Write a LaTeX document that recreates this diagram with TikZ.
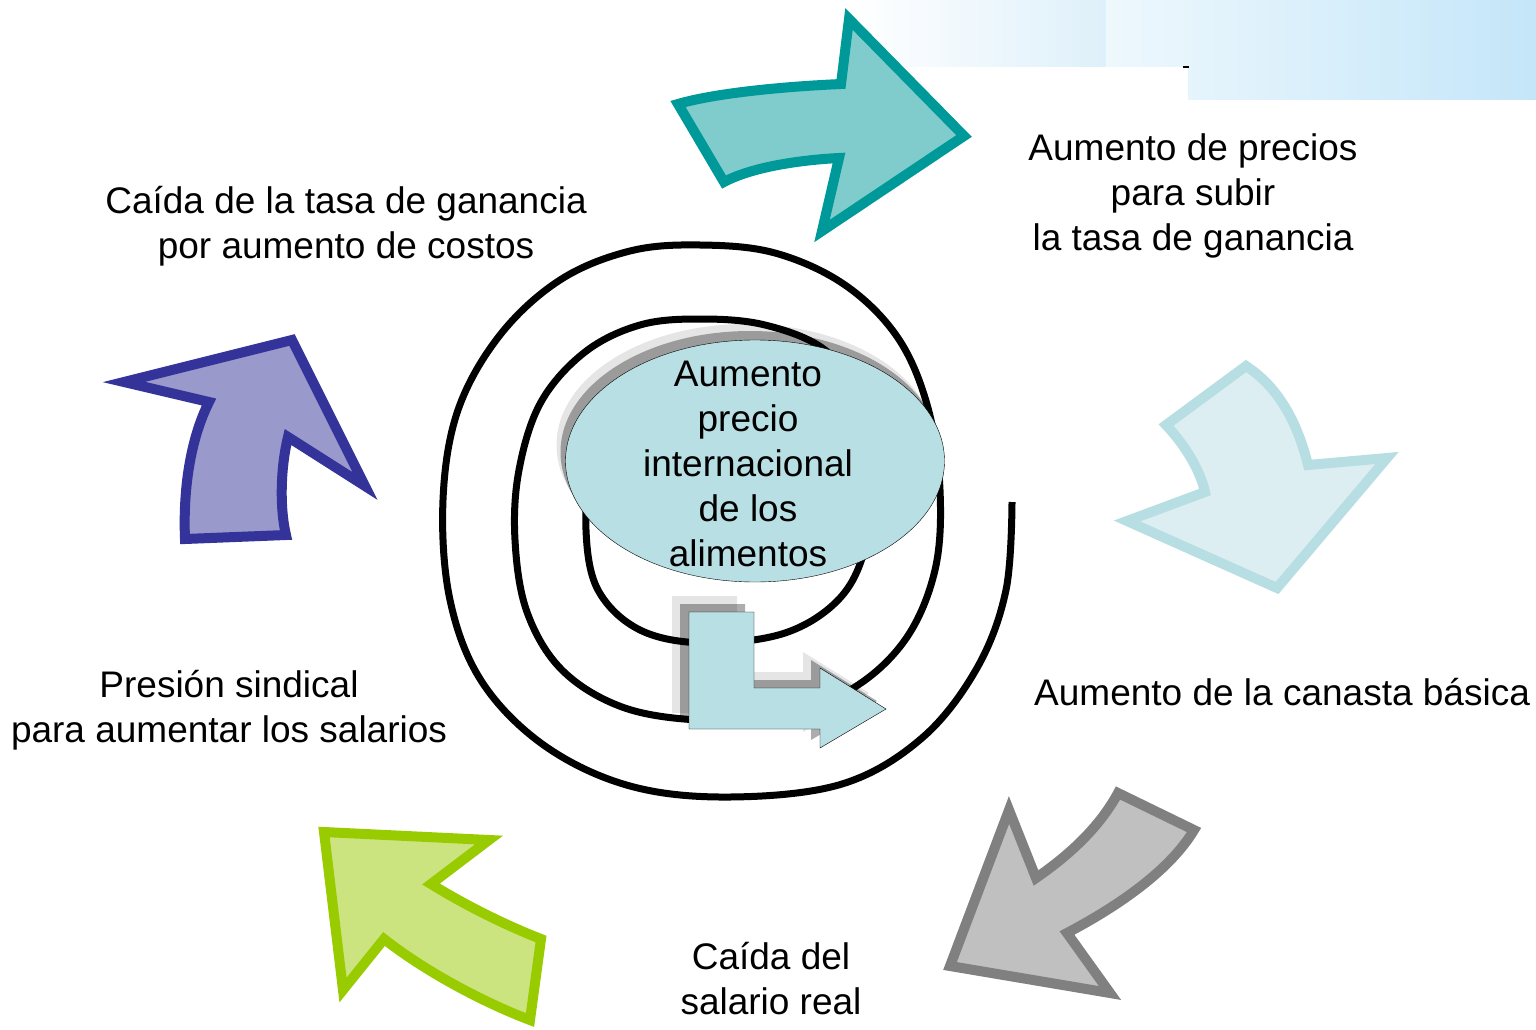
\documentclass[tikz,border=0pt]{standalone}
\usepackage{fontspec}
\setmainfont{Liberation Sans}
\usepackage{tikz}

% colours of the cycle arrows
\definecolor{tealline}{RGB}{0,153,153}
\definecolor{tealfill}{RGB}{128,204,204}
\definecolor{iceline}{RGB}{183,222,226}
\definecolor{icefill}{RGB}{220,238,241}
\definecolor{greyline}{RGB}{128,128,128}
\definecolor{greyfill}{RGB}{192,192,192}
\definecolor{limeline}{RGB}{153,204,0}
\definecolor{limefill}{RGB}{204,228,128}
\definecolor{navyline}{RGB}{51,51,153}
\definecolor{navyfill}{RGB}{153,153,204}
\definecolor{foodfill}{RGB}{184,223,227}
\definecolor{skyA}{RGB}{222,240,250}
\definecolor{skyB}{RGB}{238,248,253}
\definecolor{skyC}{RGB}{196,230,249}

\begin{document}
\begin{tikzpicture}[x=1pt,y=-1pt,line join=miter,
  bigarrow/.style={line width=10pt,miter limit=12},
  lbl/.style={align=center,inner sep=0pt,font=\fontsize{37}{45}\selectfont},
  lightshade/.style={fill=black,opacity=.10},
  darkshade/.style={fill=black,opacity=.32},
  foodbox/.style={draw=black,thin,fill=foodfill}]

\useasboundingbox (0,0) rectangle (1536,1030);

% band in the top right corner
\shade[left color=white,right color=skyA] (850,0) rectangle (1106,67);
\shade[left color=skyB,right color=skyC] (1106,0) rectangle (1536,100);
\fill[white] (1106,67) rectangle (1188,100);
\draw[line width=1.5pt] (1183,67) -- (1189,67);

% spiral, from its open outer end inwards
\draw[line width=7pt] plot[smooth,tension=0.6] coordinates {
  (1012,502) (1006,590) (977,668) (922,738) (842,784) (730,797) (630,786)
  (545,746) (482,682) (450,600) (443,500) (458,410) (500,335) (560,280)
  (630,251) (700,245) (775,253) (845,285) (898,338) (928,408) (940,490)
  (935,570) (905,640) (850,690) (775,716) (698,720) (622,707) (562,670)
  (527,612) (515,540) (519,470) (541,402) (585,352) (640,325) (700,319)
  (765,325) (825,350) (862,400) (875,470) (866,545) (840,598) (785,633)
  (705,643) (640,630) (598,590) (586,530) (593,470) (625,420) (680,398)};

% ellipse with its shadow
\foreach \sx/\sy/\sty in {-9/-16/lightshade,-5/-9/darkshade,0/0/foodbox}
  \path[\sty,shift={(\sx,\sy)}] (755,461) ellipse (189.5 and 121);
\node[lbl] (food) at (748,464) {Aumento\\precio\\internacional\\de los\\alimentos};

% bent arrow with its shadow
\foreach \sx/\sy/\sty in {-17/-16/lightshade,-9/-8/darkshade,0/0/foodbox}
  \path[\sty,shift={(\sx,\sy)}] (689,612) -- (754,612) -- (754,688) -- (820,688)
    -- (820,668) -- (886,709) -- (820,748) -- (820,729) -- (689,729) -- cycle;

% the five arrows of the cycle
\draw[bigarrow,draw=tealline,fill=tealfill] (678,104) .. controls (712,94) and (775,87) .. (841,84)
  -- (849,19) -- (964,136) -- (822,231) -- (839,158) .. controls (800,160) and (752,167) .. (724,182) -- cycle;
\draw[bigarrow,draw=iceline,fill=icefill] (1246,366) -- (1166,425) .. controls (1185,445) and (1200,470) .. (1205,492)
  -- (1127,521) -- (1277,588) -- (1387,458) -- (1308,465) .. controls (1298,425) and (1280,388) .. (1246,366) -- cycle;
\draw[bigarrow,draw=greyline,fill=greyfill] (1118,793) -- (1194,830) .. controls (1170,870) and (1120,905) .. (1067,933)
  -- (1110,993) -- (950,966) -- (1009,810) -- (1036,878) .. controls (1065,858) and (1098,830) .. (1118,793) -- cycle;
\draw[bigarrow,draw=limeline,fill=limefill] (324,832) -- (489,840) -- (431,884) .. controls (465,905) and (505,925) .. (541,939)
  -- (530,1020) .. controls (490,1005) and (430,975) .. (384,939) -- (343,990) -- cycle;
\draw[bigarrow,draw=navyline,fill=navyfill] (124,382) -- (292,340) -- (365,486) -- (288,437)
  .. controls (280,470) and (280,510) .. (286,535) -- (185,539) .. controls (183,490) and (190,440) .. (209,402) -- cycle;

% labels of the cycle
\node[lbl] (prices) at (1193,196) {Aumento de precios\\para subir\\la tasa de ganancia};
\node[lbl,anchor=west] (basket) at (1034,692) {Aumento de la canasta básica};
\node[lbl] (wage) at (771,979) {Caída del\\salario real};
\node[lbl] (union) at (229,710) {Presión sindical\\para aumentar los salarios};
\node[lbl] (costs) at (346,226) {Caída de la tasa de ganancia\\por aumento de costos};

\end{tikzpicture}
\end{document}
